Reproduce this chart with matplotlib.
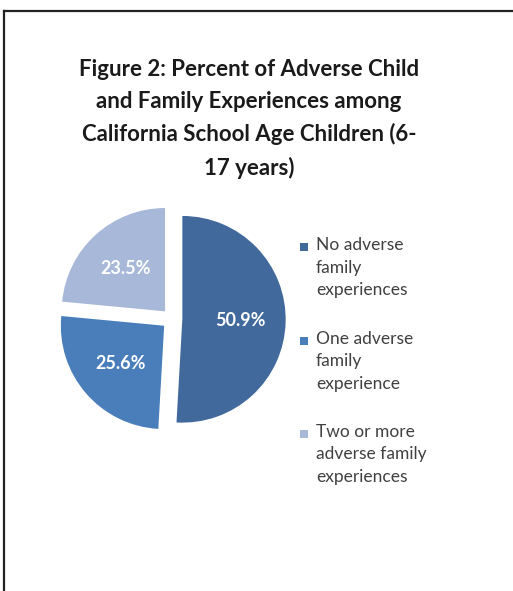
import matplotlib.pyplot as plt
from matplotlib.lines import Line2D
from matplotlib.patches import Rectangle

# data
categories = ["No adverse\nfamily\nexperiences",
              "One adverse\nfamily\nexperience",
              "Two or more\nadverse family\nexperiences"]
values = [50.9, 25.6, 23.5]
colors = ["#41699c", "#4a7ebb", "#a7b8d8"]

title = ("Figure 2: Percent of Adverse Child\n"
         "and Family Experiences among\n"
         "California School Age Children (6-\n"
         "17 years)")

plt.rcParams['font.family'] = ['Lato', 'DejaVu Sans']

fig = plt.figure(figsize=(5.13, 5.91), dpi=100)
W, H = 513, 591

# frame lines (left and top only, like the cropped page)
fig.add_artist(Line2D([4 / W, 4 / W], [0, 1 - 11 / H], color="#222222", lw=1.6,
                      transform=fig.transFigure))
fig.add_artist(Line2D([4 / W, 1], [1 - 11 / H, 1 - 11 / H], color="#222222", lw=1.6,
                      transform=fig.transFigure))

fig.text(249 / W, 1 - 119 / H, title, ha="center", va="center", fontsize=16,
         fontweight="bold", color="#1a1a1a", linespacing=1.63)

# pie, centre about (172, 319) px, radius 103 px
cx, cy, half = 172, 319, 124
ax = fig.add_axes([(cx - half) / W, (H - cy - half) / H, 2 * half / W, 2 * half / H])
wedges, texts, autotexts = ax.pie(values, colors=colors, startangle=90, counterclock=False,
                                  explode=[0.1, 0.1, 0.1], autopct="%1.1f%%",
                                  pctdistance=0.56,
                                  textprops=dict(color="white", fontsize=13, fontweight="bold"))
ax.set_xlim(-1.2, 1.2)
ax.set_ylim(-1.2, 1.2)
ax.set_aspect("equal")
ax.axis("off")

# legend with the marker on the first line of each label
lx, ly0, step = 316, 247, 93.5
for i, (lab, col) in enumerate(zip(categories, colors)):
    y = ly0 + i * step
    fig.add_artist(Rectangle(((lx - 16) / W, 1 - (y + 4) / H), 8 / W, 8 / H,
                             facecolor=col, edgecolor="none", transform=fig.transFigure))
    fig.text(lx / W, 1 - (y - 10) / H, lab, ha="left", va="top", fontsize=12.5,
             color="#404040", linespacing=1.5)

fig.savefig("out.png", dpi=100)
